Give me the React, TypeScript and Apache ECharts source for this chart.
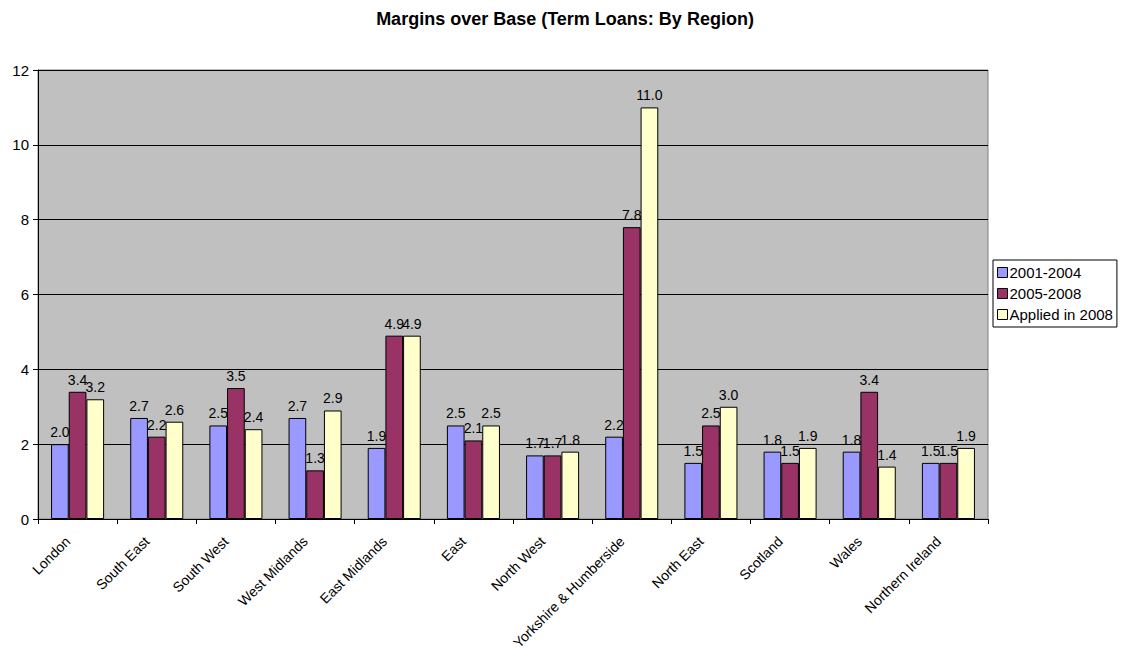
import React, { useEffect, useRef } from "react";
import * as echarts from "echarts";

const categories = [
  "London", "South East", "South West", "West Midlands", "East Midlands", "East",
  "North West", "Yorkshire & Humberside", "North East", "Scotland", "Wales", "Northern Ireland",
];
const s2001 = [2.0, 2.7, 2.5, 2.7, 1.9, 2.5, 1.7, 2.2, 1.5, 1.8, 1.8, 1.5];
const s2005 = [3.4, 2.2, 3.5, 1.3, 4.9, 2.1, 1.7, 7.8, 2.5, 1.5, 3.4, 1.5];
const sApplied = [3.2, 2.6, 2.4, 2.9, 4.9, 2.5, 1.8, 11.0, 3.0, 1.9, 1.4, 1.9];
const seriesNames = ["2001-2004", "2005-2008", "Applied in 2008"];
const colors = ["#9999FF", "#993366", "#FFFFCC"];

export default function App() {
  const ref = useRef<HTMLDivElement>(null);
  useEffect(() => {
    if (!ref.current) return;
    const chart = echarts.init(ref.current, undefined, { renderer: "svg" });
    const font = "Arial, 'Liberation Sans', sans-serif";
    const mk = (name: string, data: number[], color: string) => ({
      name,
      type: "bar",
      data,
      barGap: "0%",
      barCategoryGap: "33%",
      itemStyle: { color, borderColor: "#000", borderWidth: 1 },
      label: {
        show: true,
        position: "top",
        distance: 5,
        formatter: (p: any) => Number(p.value).toFixed(1),
        color: "#000",
        fontFamily: font,
        fontSize: 14,
      },
    });
    chart.setOption({
      animation: false,
      backgroundColor: "#fff",
      textStyle: { fontFamily: font },
      title: {
        text: "Margins over Base (Term Loans: By Region)",
        left: 560,
        top: 5,
        textAlign: "center",
        textStyle: { fontFamily: font, fontSize: 18, fontWeight: "bold", color: "#000" },
      },
      legend: {
        orient: "vertical",
        left: 993,
        top: 260,
        padding: [5, 4, 5, 4],
        itemGap: 6,
        itemWidth: 10,
        itemHeight: 10,
        borderColor: "#000",
        borderWidth: 1,
        backgroundColor: "#fff",
        icon: "rect",
        itemStyle: { borderColor: "#000", borderWidth: 1 },
        textStyle: { fontFamily: font, fontSize: 15, color: "#000", padding: [0, 0, 0, -3] },
        data: seriesNames,
      },
      grid: {
        left: 38,
        right: 136,
        top: 70,
        bottom: 140,
        show: true,
        backgroundColor: "#C0C0C0",
        borderColor: "#808080",
        borderWidth: 1,
        containLabel: false,
      },
      xAxis: {
        type: "category",
        data: categories,
        axisLine: { lineStyle: { color: "#000" } },
        axisTick: { show: true, alignWithLabel: false, length: 5, lineStyle: { color: "#000" } },
        axisLabel: {
          rotate: 45,
          interval: 0,
          color: "#000",
          fontFamily: font,
          fontSize: 14,
          margin: 10,
          padding: [0, 14, 0, 0],
        },
      },
      yAxis: {
        type: "value",
        min: 0,
        max: 12,
        interval: 2,
        axisLine: { show: true, lineStyle: { color: "#000" } },
        axisTick: { show: true, length: 5, lineStyle: { color: "#000" } },
        axisLabel: { color: "#000", fontFamily: font, fontSize: 15, margin: 9 },
        splitLine: { show: true, lineStyle: { color: "#000", width: 1 } },
      },
      series: [
        mk(seriesNames[0], s2001, colors[0]),
        mk(seriesNames[1], s2005, colors[1]),
        mk(seriesNames[2], sApplied, colors[2]),
      ],
    });
    return () => chart.dispose();
  }, []);
  return (
    <div
      ref={ref}
      style={{ position: "absolute", left: 0, top: 0, width: 1124, height: 659 }}
    />
  );
}
